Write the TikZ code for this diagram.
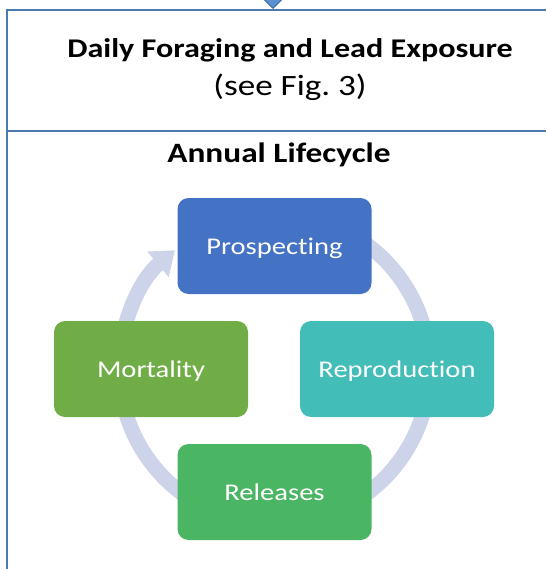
\documentclass[tikz,border=0pt]{standalone}
\usepackage{fontspec}
\usepackage{graphicx}
\setmainfont[Ligatures=NoCommon]{Carlito}
\usetikzlibrary{arrows.meta}
\definecolor{frameblue}{RGB}{74,122,176}
\definecolor{feedblue}{RGB}{91,144,212}
\definecolor{feededge}{RGB}{65,113,156}
\definecolor{ringgrey}{RGB}{205,212,233}
\definecolor{prospblue}{RGB}{68,114,196}
\definecolor{reprteal}{RGB}{67,189,184}
\definecolor{relgreen}{RGB}{74,182,100}
\definecolor{mortgreen}{RGB}{112,173,71}
\newcommand\wide[1]{\scalebox{1.19}[1]{#1}}
\tikzset{
every picture/.style={
line width=2.5pt
}}

\begin{document}
\begin{tikzpicture}[x=1pt, y=1pt,
stage/.style = {rectangle, rounded corners=11pt, minimum width=194pt, minimum height=96pt, inner sep=0pt, text=white, font=\fontsize{24}{28}\selectfont, text height=16pt, text depth=0pt},
ring/.style = {draw=ringgrey, line width=15pt, -{Triangle[width=32pt,length=22pt]}}]

\useasboundingbox (0,0) rectangle (546,-569);

\draw[frameblue] (546,-10) -| (7,-569);
\draw[frameblue] (7,-131) -- (546,-131);

\coordinate (feed) at (273,-9);
\draw[feededge, line width=1pt, -{Triangle[width=20pt,length=10pt,fill=feedblue]}] (273,4) -- (feed);

\node[anchor=base, font=\fontsize{27}{32}\selectfont\bfseries] (daily) at (290,-58) {\wide{Daily Foraging and Lead Exposure}};
\node[anchor=base, font=\fontsize{29.5}{34}\selectfont] (fig) at (290,-96) {\wide{(see Fig.~3)}};
\node[anchor=base, font=\fontsize{28}{33}\selectfont\bfseries] (annual) at (279,-163) {\wide{Annual Lifecycle}};

\coordinate (hub) at (274.5,-369);
\draw[ring] ([shift={(90:155pt)}]hub) arc[start angle=90, end angle=-230, radius=155pt];

\node[stage, fill=prospblue] (prosp) at (274.5,-246) {\wide{Prospecting}};
\node[stage, fill=reprteal] (repro) at (397,-369) {\wide{Reproduction}};
\node[stage, fill=relgreen] (rel) at (274.5,-492) {\wide{Releases}};
\node[stage, fill=mortgreen] (mort) at (151,-369) {\wide{Mortality}};
\end{tikzpicture}
\end{document}
